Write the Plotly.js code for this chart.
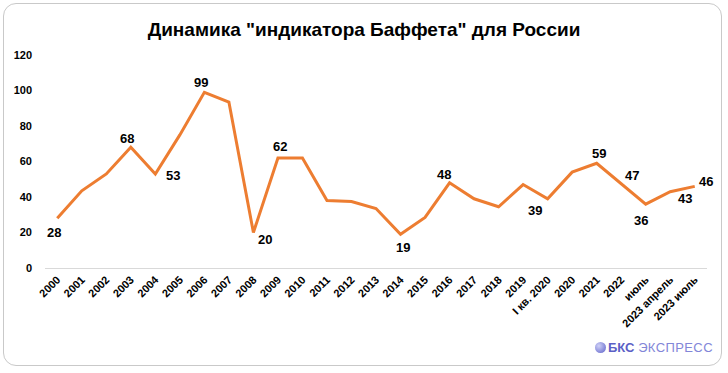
<!DOCTYPE html>
<html>
<head>
<meta charset="utf-8">
<script src="https://cdn.plot.ly/plotly-3.0.1.min.js"></script>
<style>
  html, body { margin: 0; padding: 0; background: #ffffff; }
  #wrap { position: relative; width: 728px; height: 373px; overflow: hidden; }
  #frame { position: absolute; left: 3px; top: 3px; width: 719px; height: 363px; border: 1px solid #c9c9c9; border-radius: 13px; box-sizing: border-box; }
  #chart { position: absolute; left: 0; top: 0; width: 728px; height: 373px; }
  #logo { position: absolute; left: 595px; top: 340px; font-family: "Liberation Sans", Arial, sans-serif; font-size: 13px; color: #6a6ed0; white-space: nowrap; }
  #logo .dot { display: inline-block; width: 11px; height: 11px; border-radius: 50%; background: radial-gradient(circle at 35% 35%, #cfd1f7, #5c60c9); vertical-align: -1px; margin-right: 2px; }
  #logo b { color: #5b5fc6; }
  #logo span.l { color: #8286d8; letter-spacing: 0.4px; }
</style>
</head>
<body>
<div id="wrap">
  <div id="frame"></div>
  <div id="chart"></div>
  <div id="logo"><span class="dot"></span><b>БКС</b> <span class="l">ЭКСПРЕСС</span></div>
</div>
<script>
const categories = ["2000","2001","2002","2003","2004","2005","2006","2007","2008","2009","2010","2011","2012","2013","2014","2015","2016","2017","2018","2019","I кв. 2020","2020","2021","2022","июль","2023 апрель","2023 июль"];
const values = [28, 43.5, 53, 68, 53, 75, 99, 93.5, 20, 62, 62, 38, 37.5, 33.5, 19, 28.5, 48, 39, 34.5, 47, 39, 54, 59, 47.5, 36, 43, 46];
const labels = ["28","","","68","53","","99","","20","62","","","","","19","","48","","","","39","","59","47","36","43","46"];
// label placement relative to its point, in pixels [dx, dy] (screen: +dy = down)
const labelOffsets = [[-3,14],null,null,[-4,-9],[18,2],null,[-3,-10],null,[12,7],[2,-11],null,null,null,null,[2,13],null,[-6,-8],null,null,null,[-13,12],null,[2,-10],[11,-8],[-5,16],[15,7],[11,-5]];
const yTicks = [0, 20, 40, 60, 80, 100, 120];

const font = '"Liberation Sans", Arial, sans-serif';

const trace = {
  type: 'scatter',
  mode: 'lines',
  x: categories,
  y: values,
  line: { color: '#ED7D31', width: 3 },
  cliponaxis: false,
  hoverinfo: 'x+y'
};

const annotations = [];
labels.forEach((t, i) => {
  if (!t) return;
  const off = labelOffsets[i] || [0, 0];
  annotations.push({
    x: i, y: values[i], xref: 'x', yref: 'y',
    text: t, showarrow: false,
    xanchor: 'center', yanchor: 'middle',
    xshift: off[0], yshift: -off[1],
    font: { family: font, size: 13, color: '#000000', weight: 'bold' }
  });
});

const layout = {
  width: 728,
  height: 373,
  margin: { l: 45, r: 21, t: 55, b: 105 },
  paper_bgcolor: 'rgba(0,0,0,0)',
  plot_bgcolor: 'rgba(0,0,0,0)',
  showlegend: false,
  title: {
    text: 'Динамика "индикатора Баффета" для России',
    font: { family: font, size: 19, color: '#000000', weight: 'bold' },
    x: 0.5, xref: 'container', xanchor: 'center',
    y: 0.94, yref: 'container', yanchor: 'top'
  },
  annotations: annotations,
  xaxis: {
    type: 'category',
    range: [-0.5, categories.length - 0.5],
    tickangle: -45,
    tickfont: { family: font, size: 11, color: '#000000', weight: 'bold' },
    showgrid: false,
    showline: true,
    linecolor: '#d9d9d9',
    linewidth: 1,
    ticks: '',
    zeroline: false,
    fixedrange: true
  },
  yaxis: {
    range: [0, 120],
    tickvals: yTicks,
    ticktext: yTicks.map(String),
    tickfont: { family: font, size: 11, color: '#000000', weight: 'bold' },
    showgrid: false,
    zeroline: false,
    showline: false,
    ticks: '',
    ticklabelstandoff: 12,
    fixedrange: true
  }
};

Plotly.newPlot('chart', [trace], layout, { displayModeBar: false, staticPlot: true });
</script>
</body>
</html>
